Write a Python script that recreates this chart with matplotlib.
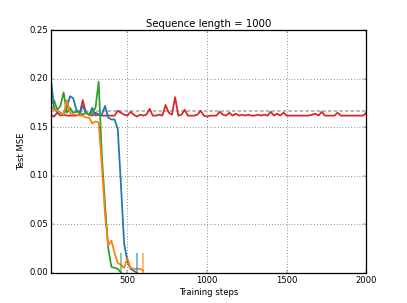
"""
Test MSE vs training steps, sequence length 1000.
"""
import matplotlib
matplotlib.use("Agg")
import matplotlib.pyplot as plt
import numpy as np

plt.style.use("classic")
plt.rcParams["font.family"] = ["DejaVu Sans"]
plt.rcParams["axes.linewidth"] = 1.8

# 数据 (每 20 步一个点)
steps_blue = np.arange(20, 561, 20)
mse_blue = [0.200, 0.170, 0.165, 0.165, 0.163, 0.170, 0.182, 0.180, 0.168, 0.165,
            0.172, 0.165, 0.163, 0.170, 0.162, 0.163, 0.163, 0.172, 0.160, 0.158,
            0.158, 0.148, 0.090, 0.030, 0.012, 0.004, 0.002, 0.000]

steps_orange = np.arange(20, 601, 20)
mse_orange = [0.172, 0.168, 0.167, 0.165, 0.163, 0.178, 0.165, 0.163, 0.163, 0.162,
              0.162, 0.160, 0.160, 0.154, 0.156, 0.155, 0.110, 0.060, 0.028, 0.033,
              0.020, 0.010, 0.008, 0.005, 0.015, 0.005, 0.004, 0.004, 0.004, 0.002]

steps_green = np.arange(20, 461, 20)
mse_green = [0.173, 0.178, 0.168, 0.172, 0.186, 0.165, 0.170, 0.165, 0.166, 0.165,
             0.163, 0.165, 0.163, 0.165, 0.170, 0.197, 0.120, 0.070, 0.025, 0.006,
             0.005, 0.004, 0.000]

steps_red = np.arange(20, 2001, 20)
mse_red = [0.163, 0.161, 0.165, 0.162, 0.163, 0.162, 0.162, 0.162, 0.162, 0.163,
           0.178, 0.165, 0.163, 0.162, 0.165, 0.163, 0.162, 0.162, 0.162, 0.162,
           0.162, 0.167, 0.165, 0.163, 0.162, 0.166, 0.163, 0.161, 0.163, 0.162,
           0.163, 0.169, 0.162, 0.162, 0.163, 0.162, 0.173, 0.165, 0.163, 0.181,
           0.162, 0.163, 0.168, 0.162, 0.162, 0.162, 0.163, 0.167, 0.162, 0.161,
           0.162, 0.162, 0.162, 0.166, 0.163, 0.162, 0.165, 0.162, 0.164, 0.162,
           0.163, 0.162, 0.163, 0.162, 0.162, 0.163, 0.162, 0.163, 0.162, 0.166,
           0.162, 0.164, 0.162, 0.165, 0.162, 0.162, 0.162, 0.162, 0.162, 0.162,
           0.162, 0.162, 0.163, 0.164, 0.162, 0.166, 0.162, 0.162, 0.162, 0.162,
           0.165, 0.162, 0.162, 0.162, 0.162, 0.162, 0.162, 0.162, 0.162, 0.165]

baseline = 1 / 6
end_steps = [460, 560, 600]   # 绿 / 蓝 / 橙 结束位置
end_height = 0.02

c_blue, c_orange, c_green, c_red = "#1f77b4", "#ff7f0e", "#2ca02c", "#d62728"

fig = plt.figure(figsize=(8, 303 / 50.875), dpi=50.875)
ax = fig.add_subplot(111)

ax.axhline(baseline, color="gray", ls="--", lw=2.5, alpha=0.6, dashes=(5, 3))
ax.plot(steps_red, mse_red, color=c_red, lw=2.5)
ax.plot(steps_blue, mse_blue, color=c_blue, lw=2.5)
ax.plot(steps_green, mse_green, color=c_green, lw=2.5)
ax.plot(steps_orange, mse_orange, color=c_orange, lw=2.5)

for s, c in zip(end_steps, [c_green, c_blue, c_orange]):
    ax.vlines(s, 0, end_height, color=c, lw=2.5, alpha=0.6)

ax.set_xlim(20, 2000)
ax.set_ylim(0, 0.25)
ax.set_xticks([500, 1000, 1500, 2000])
ax.set_yticks([0.0, 0.05, 0.10, 0.15, 0.20, 0.25])
ax.grid(True, color="k", ls=":", lw=1.0, alpha=0.8)
ax.set_xlabel("Training steps")
ax.set_ylabel("Test MSE")
ax.set_title("Sequence length = 1000")

plt.savefig("out.png", dpi=50.875)
plt.close()
